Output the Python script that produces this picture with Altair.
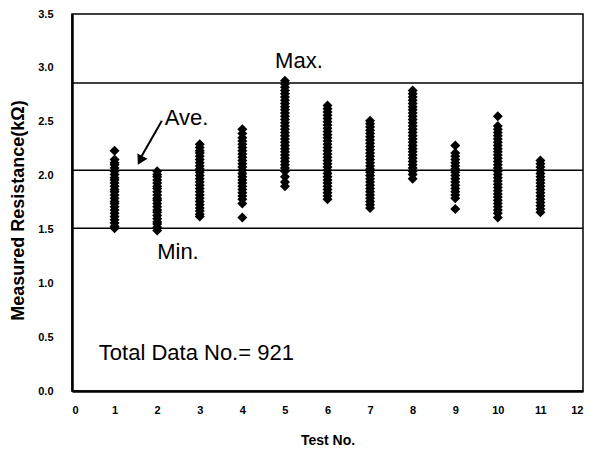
import altair as alt
import pandas as pd

t1 = [2.23, 2.15, 2.12, 2.10, 2.07, 2.04, 2.01, 1.98, 1.96, 1.93, 1.90, 1.87, 1.85, 1.82, 1.79, 1.76, 1.74, 1.71, 1.68, 1.65, 1.62, 1.59, 1.56, 1.53, 1.51]
t2 = [2.04, 2.01, 1.99, 1.96, 1.93, 1.90, 1.88, 1.85, 1.82, 1.79, 1.77, 1.74, 1.71, 1.68, 1.66, 1.63, 1.60, 1.57, 1.55, 1.52, 1.49]
t3 = [2.29, 2.26, 2.23, 2.21, 2.18, 2.15, 2.12, 2.09, 2.06, 2.03, 2.00, 1.97, 1.94, 1.91, 1.88, 1.85, 1.82, 1.79, 1.76, 1.73, 1.70, 1.67, 1.64, 1.62]
t4 = [2.43, 2.39, 2.35, 2.32, 2.29, 2.26, 2.23, 2.20, 2.17, 2.14, 2.11, 2.08, 2.05, 2.02, 1.99, 1.96, 1.93, 1.90, 1.87, 1.84, 1.81, 1.78, 1.74, 1.61]
t5 = [2.88, 2.85, 2.82, 2.79, 2.76, 2.73, 2.70, 2.67, 2.64, 2.61, 2.58, 2.55, 2.52, 2.49, 2.46, 2.43, 2.40, 2.37, 2.34, 2.31, 2.28, 2.25, 2.22, 2.19, 2.16, 2.13, 2.10, 2.07, 2.04, 1.99, 1.94, 1.90]
t6 = [2.65, 2.62, 2.59, 2.56, 2.53, 2.50, 2.47, 2.44, 2.41, 2.38, 2.35, 2.32, 2.29, 2.26, 2.23, 2.20, 2.17, 2.14, 2.11, 2.08, 2.05, 2.02, 1.99, 1.96, 1.93, 1.90, 1.87, 1.84, 1.81, 1.78]
t7 = [2.51, 2.48, 2.45, 2.42, 2.39, 2.36, 2.33, 2.30, 2.27, 2.24, 2.21, 2.18, 2.15, 2.12, 2.09, 2.06, 2.03, 2.00, 1.97, 1.94, 1.91, 1.88, 1.85, 1.82, 1.79, 1.76, 1.73, 1.70]
t8 = [2.79, 2.76, 2.73, 2.70, 2.67, 2.64, 2.61, 2.58, 2.55, 2.52, 2.49, 2.46, 2.43, 2.40, 2.37, 2.34, 2.31, 2.28, 2.25, 2.22, 2.19, 2.16, 2.13, 2.10, 2.07, 2.04, 2.01, 1.97]
t9 = [2.28, 2.21, 2.18, 2.15, 2.12, 2.09, 2.06, 2.03, 2.00, 1.97, 1.94, 1.91, 1.88, 1.85, 1.82, 1.79, 1.69]
t10 = [2.55, 2.46, 2.43, 2.40, 2.37, 2.34, 2.31, 2.28, 2.25, 2.22, 2.19, 2.16, 2.13, 2.10, 2.07, 2.04, 2.01, 1.98, 1.95, 1.92, 1.89, 1.86, 1.83, 1.80, 1.77, 1.74, 1.71, 1.68, 1.65, 1.61]
t11 = [2.14, 2.11, 2.08, 2.05, 2.02, 1.99, 1.96, 1.93, 1.90, 1.87, 1.84, 1.81, 1.78, 1.75, 1.72, 1.69, 1.66]

tests = [t1, t2, t3, t4, t5, t6, t7, t8, t9, t10, t11]

ref_names = ["Max.", "Ave.", "Min."]
ref_values = [2.86, 2.05, 1.51]

x_ticks = list(range(0, 13))
y_ticks = [0.0, 0.5, 1.0, 1.5, 2.0, 2.5, 3.0, 3.5]

rows = []
for i, vals in enumerate(tests, start=1):
    for v in vals:
        rows.append({"test": i, "r": v})
pts = pd.DataFrame(rows)

xs = alt.Scale(domain=[0, 12], nice=False)
ys = alt.Scale(domain=[0, 3.5], nice=False)

tick_font = "Liberation Sans"
ann_font = "Liberation Sans, Arial, sans-serif"

points = alt.Chart(pts).mark_point(
    shape="diamond", filled=True, color="black", size=100, opacity=1
).encode(
    x=alt.X("test:Q", scale=xs, title="Test No.",
            axis=alt.Axis(values=x_ticks, format="d", grid=False, ticks=False,
                          labelPadding=13, labelFont=tick_font, labelFontWeight="bold",
                          labelFontSize=11, labelColor="black",
                          domainColor="black", domainWidth=2.5,
                          titleFont=tick_font, titleFontSize=14, titleFontWeight="bold",
                          titleColor="black", titlePadding=18)),
    y=alt.Y("r:Q", scale=ys, title="Measured Resistance(kΩ)",
            axis=alt.Axis(values=y_ticks, format=".1f", grid=False, ticks=False,
                          labelPadding=19, labelFont=tick_font, labelFontWeight="bold",
                          labelFontSize=11, labelColor="black",
                          domainColor="black", domainWidth=2.5,
                          titleFont=tick_font, titleFontSize=18, titleFontWeight="bold",
                          titleColor="black", titlePadding=10, titleY=196)),
)

refs = pd.DataFrame({"name": ref_names, "v": ref_values})
rules = alt.Chart(refs).mark_rule(color="black", strokeWidth=1.5).encode(
    y=alt.Y("v:Q", scale=ys)
)

ann = pd.DataFrame({
    "label": ["Max.", "Ave.", "Min.", "Total Data No.= 921"],
    "x": [4.77, 2.18, 2.0, 0.63],
    "y": [3.06, 2.53, 1.29, 0.35],
})
texts = alt.Chart(ann).mark_text(
    align="left", baseline="middle", font=ann_font, fontSize=22, color="black"
).encode(
    x=alt.X("x:Q", scale=xs), y=alt.Y("y:Q", scale=ys), text="label:N"
)

arrow_df = pd.DataFrame({"x": [2.11], "y": [2.51], "x2": [1.62], "y2": [2.17]})
arrow_line = alt.Chart(arrow_df).mark_rule(color="black", strokeWidth=2).encode(
    x=alt.X("x:Q", scale=xs), y=alt.Y("y:Q", scale=ys), x2="x2:Q", y2="y2:Q"
)
head_df = pd.DataFrame({"x": [1.6], "y": [2.14]})
arrow_head = alt.Chart(head_df).mark_point(
    shape="triangle-up", filled=True, color="black", size=130, angle=208, opacity=1
).encode(x=alt.X("x:Q", scale=xs), y=alt.Y("y:Q", scale=ys))

chart = alt.layer(rules, points, texts, arrow_line, arrow_head).properties(
    width=511, height=377,
    autosize=alt.AutoSizeParams(type="none"),
    padding={"left": 64, "top": 6, "right": 2, "bottom": 60},
    background="white",
).configure_view(stroke="black", strokeWidth=1.5)

chart.save("out.html", embed_options={"renderer": "svg", "actions": False})
